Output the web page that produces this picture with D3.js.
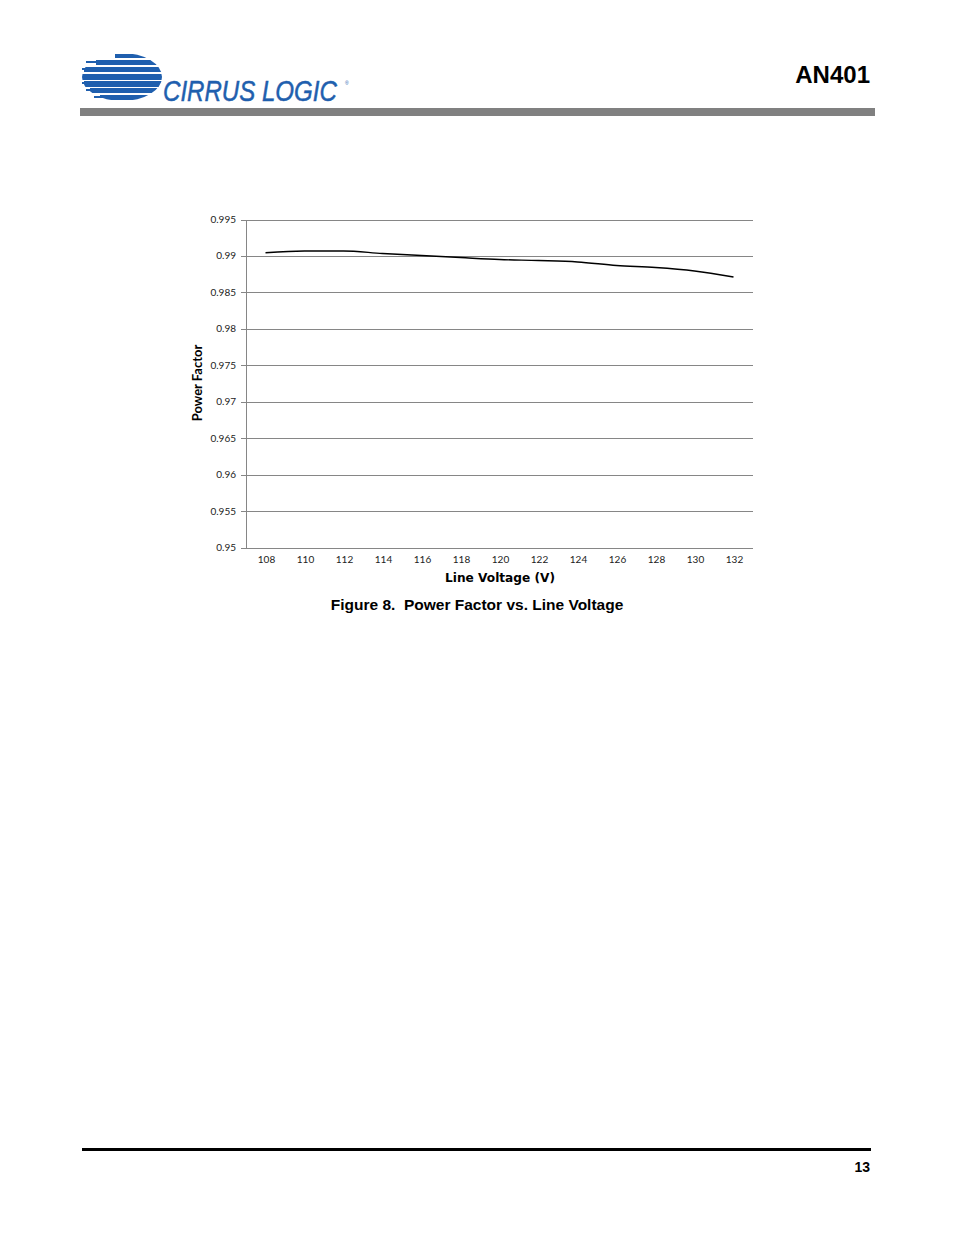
<!DOCTYPE html>
<html><head><meta charset="utf-8">
<script src="https://cdn.jsdelivr.net/npm/d3@7"></script>
<style>body{margin:0;background:#fff}svg{display:block}</style>
</head><body>
<svg id="c" width="954" height="1235"></svg>
<script>
const voltages = [108,110,112,114,116,118,120,122,124,126,128,130,132];
const powerFactor = [0.9905,0.99075,0.99075,0.9904,0.99013,0.98985,0.98958,0.98944,0.98924,0.98876,0.98848,0.988,0.98718];
const yTicks = [0.95,0.955,0.96,0.965,0.97,0.975,0.98,0.985,0.99,0.995];
const yTickLabels = ["0.95","0.955","0.96","0.965","0.97","0.975","0.98","0.985","0.99","0.995"];

(function(){
const svg = d3.select("#c");

// Header logo
const blue = "#1f5fae";
const logo = svg.append("g");
const defs = svg.append("defs");
defs.append("clipPath").attr("id","globe").append("ellipse").attr("cx",122).attr("cy",77).attr("rx",40).attr("ry",24);
const stripes = [[54,4,115],[60,5,96],[67,5,84],[74,6,82],[81,6,84],[88,5,90],[95,5,100]];
const sg = logo.append("g").attr("clip-path","url(#globe)");
stripes.forEach(([yy,h,x0])=>{
  sg.append("rect").attr("x",x0).attr("y",yy).attr("width",170-x0).attr("height",h).attr("fill",blue);
});
[[60,2,86],[67,2,82],[74,2,83],[81,2,82],[88,2,86],[95,2,94]].forEach(([yy,h,x0])=>{
  logo.append("rect").attr("x",x0).attr("y",yy+1).attr("width",40).attr("height",h).attr("fill",blue);
});
const lg = logo.append("g");
const lt = lg.append("text").attr("x",0).attr("y",0).attr("font-family","Liberation Sans, sans-serif")
  .attr("font-style","italic").attr("font-size",29).attr("fill",blue).attr("stroke",blue).attr("stroke-width",0.5).text("CIRRUS LOGIC");
const natural = lt.node().getComputedTextLength();
lg.attr("transform",`translate(163,101) scale(${174/natural},1)`);
logo.append("text").attr("x",345).attr("y",85).attr("font-family","Liberation Sans, sans-serif").attr("font-size",5).attr("fill",blue).text("®");

svg.append("text").attr("x",870).attr("y",83).attr("text-anchor","end").attr("font-family","Liberation Sans, Arial, sans-serif")
  .attr("font-weight","bold").attr("font-size",24).attr("fill","#000").text("AN401");
svg.append("rect").attr("x",80).attr("y",108).attr("width",795).attr("height",8).attr("fill","#808080");

// Chart
const pLeft=246, pRight=753, pTop=220, pBottom=548;
const x = d3.scalePoint().domain(voltages).range([pLeft,pRight]).padding(0.5);
const y = d3.scaleLinear().domain([0.95,0.995]).range([pBottom,pTop]);

const grid = svg.append("g");
yTicks.forEach(t=>{
  grid.append("line").attr("x1",pLeft-5).attr("x2",pRight).attr("y1",y(t)).attr("y2",y(t)).attr("stroke","#868686").attr("stroke-width",1).attr("shape-rendering","crispEdges");
});
svg.append("line").attr("x1",pLeft).attr("x2",pLeft).attr("y1",pTop).attr("y2",pBottom).attr("stroke","#868686").attr("shape-rendering","crispEdges");

const tf = "Lato, Open Sans, sans-serif";
yTicks.forEach((t,i)=>{
  svg.append("text").attr("x",236).attr("y",y(t)+3).attr("text-anchor","end").attr("font-family",tf).attr("font-size",10).attr("fill","#222").text(yTickLabels[i]);
});
voltages.forEach(v=>{
  svg.append("text").attr("x",x(v)+1).attr("y",563).attr("text-anchor","middle").attr("font-family",tf).attr("font-size",10).attr("fill","#222").text(v);
});

const line = d3.line().x((d,i)=>x(voltages[i])).y(d=>y(d)).curve(d3.curveMonotoneX);
svg.append("path").datum(powerFactor).attr("d",line).attr("fill","none").attr("stroke","#000").attr("stroke-width",1.4);

svg.append("text").attr("x",500).attr("y",582).attr("text-anchor","middle").attr("font-family","DejaVu Sans, Verdana, sans-serif").attr("font-weight","bold").attr("font-size",12).attr("textLength",110).attr("lengthAdjust","spacingAndGlyphs").text("Line Voltage (V)");
svg.append("text").attr("transform","translate(202,383) rotate(-90)").attr("text-anchor","middle").attr("font-family",tf).attr("font-weight","bold").attr("font-size",13).text("Power Factor");

svg.append("text").attr("x",477).attr("y",610).attr("text-anchor","middle").attr("font-family","Liberation Sans, Arial, sans-serif").attr("font-weight","bold").attr("font-size",15.5).style("white-space","pre").text("Figure 8.  Power Factor vs. Line Voltage");

// Footer
svg.append("rect").attr("x",82).attr("y",1148).attr("width",789).attr("height",3).attr("fill","#000");
svg.append("text").attr("x",870).attr("y",1172).attr("text-anchor","end").attr("font-family","Liberation Sans, Arial, sans-serif").attr("font-weight","bold").attr("font-size",14).text("13");
})();
</script>
</body></html>
